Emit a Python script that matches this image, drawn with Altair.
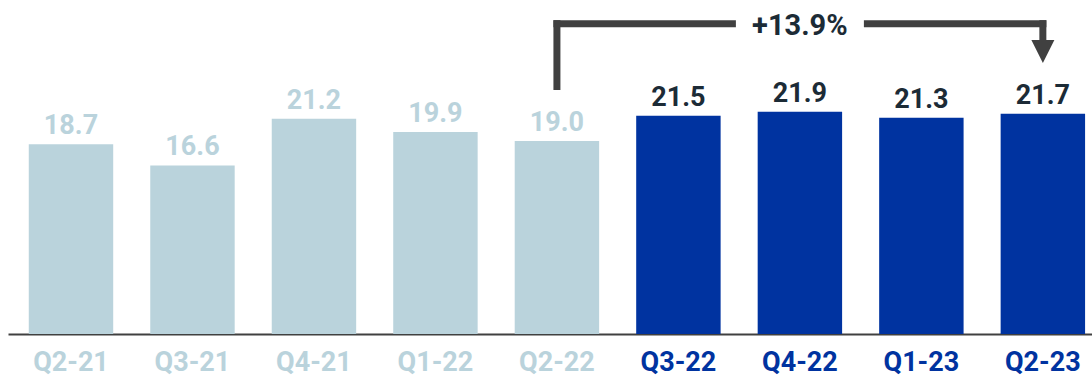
import altair as alt
import pandas as pd

# ---- data ----
quarters = ["Q2-21", "Q3-21", "Q4-21", "Q1-22", "Q2-22", "Q3-22", "Q4-22", "Q1-23", "Q2-23"]
values = [18.7, 16.6, 21.2, 19.9, 19.0, 21.5, 21.9, 21.3, 21.7]
period = ["prior", "prior", "prior", "prior", "prior", "recent", "recent", "recent", "recent"]

change_label = "+13.9%"
bracket_from = "Q2-22"
bracket_mid = "Q4-22"
bracket_to = "Q2-23"
bracket_top = 30.57        # level of the horizontal bracket line (data units)
bracket_from_bottom = 24.38
arrow_top = 28.96
arrow_center = 27.83
change_label_y = 29.45

LIGHT = "#bad3dc"
DARK = "#0033a0"
TEXT_DARK = "#1c2b36"
GRAY = "#404040"
FONT = "Roboto"

df = pd.DataFrame({"quarter": quarters, "value": values, "period": period})
recent = [q for q, p in zip(quarters, period) if p == "recent"]

xscale = alt.Scale(domain=quarters, paddingInner=0.305, paddingOuter=0.114, align=0.75)
yscale = alt.Scale(domain=[0, 32.9], nice=False, zero=True)

recent_list = "[" + ",".join("'%s'" % q for q in recent) + "]"

x_enc = alt.X(
    "quarter:N",
    sort=quarters,
    scale=xscale,
    axis=alt.Axis(
        title=None,
        labelAngle=0,
        ticks=False,
        labelFont=FONT,
        labelFontSize=27,
        labelFontWeight="bold",
        labelPadding=15,
        labelColor={
            "condition": {"test": "indexof(%s, datum.value) >= 0" % recent_list, "value": DARK},
            "value": LIGHT,
        },
        domainColor=GRAY,
        domainWidth=2,
        grid=False,
    ),
)
y_enc = alt.Y("value:Q", scale=yscale, axis=None)

base = alt.Chart(df)

bars = base.mark_bar().encode(
    x=x_enc,
    y=y_enc,
    color=alt.condition("datum.period == 'recent'", alt.value(DARK), alt.value(LIGHT)),
)

labels = base.mark_text(
    dy=-10, baseline="alphabetic", align="center", font=FONT, fontSize=27, fontWeight="bold"
).encode(
    x=alt.X("quarter:N", sort=quarters),
    y=alt.Y("value:Q"),
    text=alt.Text("value:Q", format=".1f"),
    color=alt.condition("datum.period == 'recent'", alt.value(TEXT_DARK), alt.value(LIGHT)),
)

# ---- bracket annotation ----
left_vert = alt.Chart(pd.DataFrame({"quarter": [bracket_from], "y1": [bracket_from_bottom], "y2": [bracket_top]})).mark_rule(
    color=GRAY, strokeWidth=7, strokeCap="square"
).encode(x=alt.X("quarter:N", sort=quarters), y=alt.Y("y1:Q"), y2="y2:Q")

h_left = alt.Chart(pd.DataFrame({"q1": [bracket_from], "q2": [bracket_mid], "y": [bracket_top]})).mark_rule(
    color=GRAY, strokeWidth=7, strokeCap="square", x2Offset=-67.5
).encode(x=alt.X("q1:N", sort=quarters), x2="q2:N", y=alt.Y("y:Q"))

h_right = alt.Chart(pd.DataFrame({"q1": [bracket_mid], "q2": [bracket_to], "y": [bracket_top]})).mark_rule(
    color=GRAY, strokeWidth=7, strokeCap="square", xOffset=67.5
).encode(x=alt.X("q1:N", sort=quarters), x2="q2:N", y=alt.Y("y:Q"))

right_vert = alt.Chart(pd.DataFrame({"quarter": [bracket_to], "y1": [arrow_top], "y2": [bracket_top]})).mark_rule(
    color=GRAY, strokeWidth=7, strokeCap="square"
).encode(x=alt.X("quarter:N", sort=quarters), y=alt.Y("y1:Q"), y2="y2:Q")

arrow_head = alt.Chart(pd.DataFrame({"quarter": [bracket_to], "y": [arrow_center]})).mark_point(
    shape="M-1,-1L1,-1L0,1Z", size=529, filled=True, opacity=1, color=GRAY, strokeWidth=0
).encode(x=alt.X("quarter:N", sort=quarters), y=alt.Y("y:Q"))

change_text = alt.Chart(pd.DataFrame({"quarter": [bracket_mid], "y": [change_label_y], "t": [change_label]})).mark_text(
    baseline="alphabetic", align="center", font=FONT, fontSize=29, fontWeight="bold", color=TEXT_DARK
).encode(x=alt.X("quarter:N", sort=quarters), y=alt.Y("y:Q"), text="t:N")

chart = (
    alt.layer(bars, labels, left_vert, h_left, h_right, right_vert, arrow_head, change_text)
    .properties(
        width=1084,
        height=334,
        padding={"left": 8, "right": 0, "top": 0, "bottom": 43},
        autosize=alt.AutoSizeParams(type="none"),
        background="white",
    )
    .configure_view(stroke=None)
)

chart.save("out.html", embed_options={"renderer": "svg", "actions": False})
